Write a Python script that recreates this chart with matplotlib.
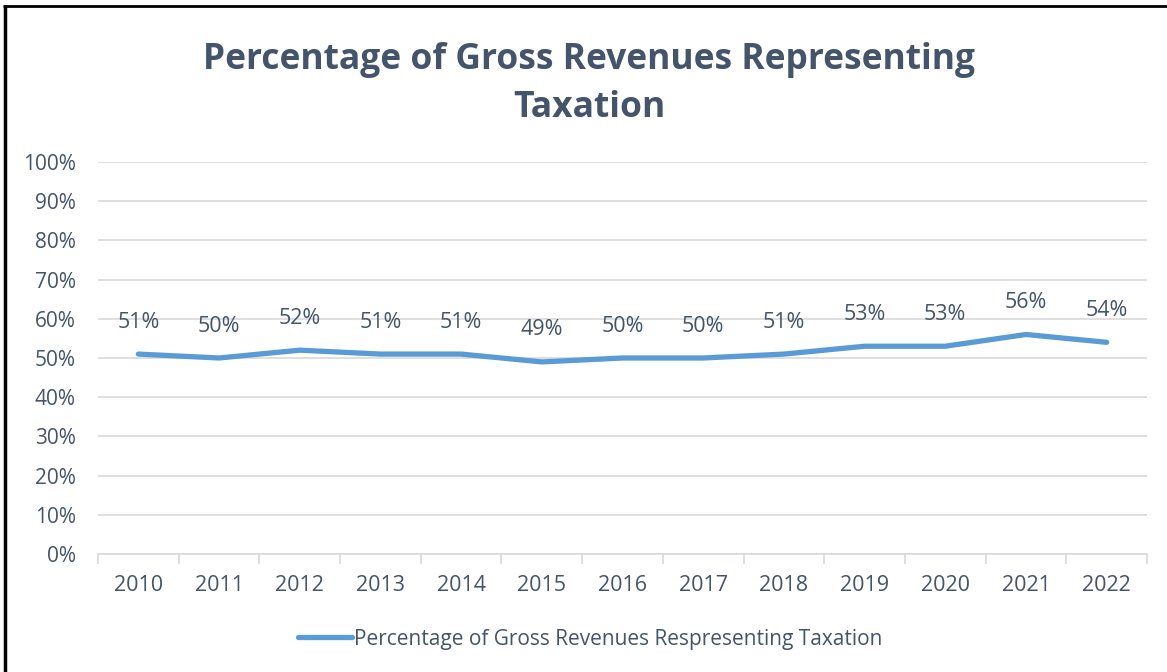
import matplotlib
matplotlib.use("Agg")
import matplotlib.pyplot as plt
from matplotlib.lines import Line2D
import numpy as np

years = ["2010", "2011", "2012", "2013", "2014", "2015", "2016",
         "2017", "2018", "2019", "2020", "2021", "2022"]
share = [51, 50, 52, 51, 51, 49, 50, 50, 51, 53, 53, 56, 54]
series_name = "Percentage of Gross Revenues Respresenting Taxation"
title = "Percentage of Gross Revenues Representing\nTaxation"

txt = "#44546A"
blue = "#5B9BD5"
grid = "#D9D9D9"

plt.rcParams["font.family"] = ["Open Sans", "DejaVu Sans"]

fig = plt.figure(figsize=(11.67, 6.72), dpi=100)
ax = fig.add_axes([98 / 1167, 1 - 554 / 672, 1049 / 1167, 392 / 672])

x = np.arange(len(years))
line, = ax.plot(x, share, color=blue, lw=3.8, solid_capstyle="round",
                solid_joinstyle="round", label=series_name)
for xi, v in zip(x, share):
    ax.annotate(f"{v}%", (xi, v), xytext=(0, 23), textcoords="offset points",
                ha="center", va="center", fontsize=15.5, color=txt)

ax.set_xlim(-0.5, len(years) - 0.5)
ax.set_ylim(0, 100)
ax.set_yticks(range(0, 101, 10))
ax.set_yticklabels([f"{t}%" for t in range(0, 101, 10)])
ax.set_xticks(x)
ax.set_xticklabels(years)
ax.tick_params(axis="y", length=0, pad=16, labelsize=15, labelcolor=txt)
ax.tick_params(axis="x", length=0, pad=15, labelsize=15.5, labelcolor=txt)
ax.set_xticks(np.arange(-0.5, len(years)), minor=True)
ax.tick_params(axis="x", which="minor", length=7, width=1.2, color=grid, direction="out")
ax.grid(axis="y", color=grid, lw=1.2)
ax.set_axisbelow(True)
for s in ["top", "right", "left"]:
    ax.spines[s].set_visible(False)
ax.spines["bottom"].set_color(grid)
ax.spines["bottom"].set_linewidth(1.2)

fig.text(0.505, 1 - 84 / 672, title, ha="center", va="center", fontsize=25.5,
         fontweight="bold", color=txt, linespacing=1.45)

fig.legend(handles=[line], loc="center", bbox_to_anchor=(0.506, 1 - 639 / 672),
           frameon=False, fontsize=15, labelcolor=txt, handlelength=2.6,
           handletextpad=0.1)

# black frame on left and top
fig.add_artist(Line2D([4.5 / 1167, 4.5 / 1167], [0, 1 - 4.5 / 672], color="black", lw=2.5,
                      solid_capstyle="butt", transform=fig.transFigure))
fig.add_artist(Line2D([3 / 1167, 1], [1 - 5.5 / 672, 1 - 5.5 / 672], color="black", lw=2,
                      solid_capstyle="butt", transform=fig.transFigure))

fig.savefig("out.png", dpi=100)
